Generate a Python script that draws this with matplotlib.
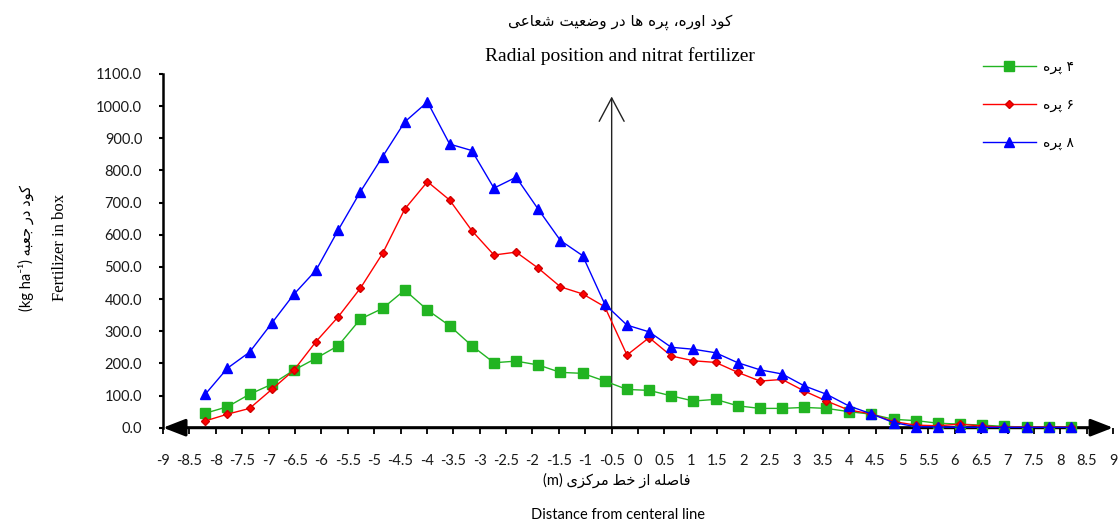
import numpy as np
import matplotlib
matplotlib.use('Agg')
import matplotlib.pyplot as plt

# box centres along the radial line (m)
dist = [-8.20, -7.78, -7.36, -6.94, -6.52, -6.10, -5.68, -5.26, -4.84, -4.42,
        -3.99, -3.57, -3.15, -2.73, -2.31, -1.89, -1.47, -1.05, -0.63, -0.21,
        0.21, 0.63, 1.05, 1.47, 1.89, 2.31, 2.73, 3.15, 3.57, 3.99,
        4.42, 4.84, 5.26, 5.68, 6.10, 6.52, 6.94, 7.36, 7.78, 8.20]

blade4 = [45, 65, 104, 135, 179, 216, 255, 338, 371, 428,
          366, 317, 255, 202, 207, 195, 172, 169, 145, 119,
          116, 99, 83, 88, 68, 60, 60, 63, 60, 50,
          42, 26, 22, 14, 11, 8, 4, 2, 2, 2]
blade6 = [21, 42, 60, 119, 179, 268, 345, 434, 542, 680,
          765, 708, 613, 537, 546, 496, 438, 416, 376, 226,
          280, 223, 208, 203, 172, 145, 150, 114, 83, 55,
          43, 19, 8, 6, 11, 5, 2, 2, 2, 2]
blade8 = [104, 185, 235, 325, 415, 490, 615, 734, 843, 951,
          1013, 882, 862, 745, 779, 679, 582, 535, 384, 319,
          298, 250, 244, 233, 202, 180, 167, 130, 104, 68,
          43, 16, 3, 2, 1, 1, 1, 1, 1, 1]

# --- tiny arabic/persian shaper (matplotlib has no shaping) ---
FORMS = {
    'ا': ('\uFE8D', '\uFE8E', None, None),
    'ب': ('\uFE8F', '\uFE90', '\uFE91', '\uFE92'),
    'پ': ('\uFB56', '\uFB57', '\uFB58', '\uFB59'),
    'ت': ('\uFE95', '\uFE96', '\uFE97', '\uFE98'),
    'ج': ('\uFE9D', '\uFE9E', '\uFE9F', '\uFEA0'),
    'خ': ('\uFEA5', '\uFEA6', '\uFEA7', '\uFEA8'),
    'د': ('\uFEA9', '\uFEAA', None, None),
    'ر': ('\uFEAD', '\uFEAE', None, None),
    'ز': ('\uFEAF', '\uFEB0', None, None),
    'ش': ('\uFEB5', '\uFEB6', '\uFEB7', '\uFEB8'),
    'ص': ('\uFEB9', '\uFEBA', '\uFEBB', '\uFEBC'),
    'ض': ('\uFEBD', '\uFEBE', '\uFEBF', '\uFEC0'),
    'ط': ('\uFEC1', '\uFEC2', '\uFEC3', '\uFEC4'),
    'ع': ('\uFEC9', '\uFECA', '\uFECB', '\uFECC'),
    'ف': ('\uFED1', '\uFED2', '\uFED3', '\uFED4'),
    'ک': ('\uFB8E', '\uFB8F', '\uFB90', '\uFB91'),
    'ل': ('\uFEDD', '\uFEDE', '\uFEDF', '\uFEE0'),
    'م': ('\uFEE1', '\uFEE2', '\uFEE3', '\uFEE4'),
    'ه': ('\uFEE9', '\uFEEA', '\uFEEB', '\uFEEC'),
    'و': ('\uFEED', '\uFEEE', None, None),
    'ی': ('\uFBFC', '\uFBFD', '\uFBFE', '\uFBFF'),
}


def shape(word):
    out = []
    for i, c in enumerate(word):
        f = FORMS.get(c)
        if f is None:
            out.append(c)
            continue
        prev = word[i - 1] if i > 0 else None
        nxt = word[i + 1] if i + 1 < len(word) else None
        jp = prev in FORMS and FORMS[prev][2] is not None
        jn = nxt in FORMS and f[2] is not None
        if jp and jn:
            out.append(f[3])
        elif jp:
            out.append(f[1])
        elif jn:
            out.append(f[2])
        else:
            out.append(f[0])
    return ''.join(reversed(out))


def rtl(text):
    return ' '.join(shape(w) for w in reversed(text.split()))


AR = ['DejaVu Sans']
SANS = ['Lato', 'DejaVu Sans']
SERIF = ['Liberation Serif', 'DejaVu Sans']

fig = plt.figure(figsize=(11.19, 5.24), dpi=100)
ax = fig.add_axes([0.1457, 0.1838, 0.849, 0.675])

ax.plot(dist, blade4, color='#22B422', marker='s', markersize=6.5, lw=1,
        label=rtl('۴ پره'), clip_on=False, zorder=4)
ax.plot(dist, blade6, color='#FF0000', marker='D', markersize=4.2, lw=1,
        markeredgecolor='#D00000', label=rtl('۶ پره'), clip_on=False, zorder=4)
ax.plot(dist, blade8, color='#0000FF', marker='^', markersize=7.5, lw=1,
        label=rtl('۸ پره'), clip_on=False, zorder=4)

ax.set_xlim(-9, 9)
ax.set_ylim(0, 1100)
ax.set_xticks(np.arange(-9, 9.01, 0.5))
ax.set_xticklabels(['%g' % t for t in np.arange(-9, 9.01, 0.5)])
ax.set_yticks(np.arange(0, 1101, 100))
ax.set_yticklabels(['%.1f' % t for t in np.arange(0, 1101, 100)])
for lab in ax.get_xticklabels() + ax.get_yticklabels():
    lab.set_family(SANS)
    lab.set_fontsize(10.5)
    lab.set_color('#1a1a1a')
ax.tick_params(axis='x', direction='out', length=4, width=1.3, pad=15)
ax.tick_params(axis='y', direction='out', length=3, width=1.5, pad=12)

for s in ['top', 'right', 'bottom']:
    ax.spines[s].set_visible(False)
ax.spines['left'].set_linewidth(1.8)

# x axis with arrows at both ends
ax.annotate('', xy=(9, 0), xytext=(-9, 0), xycoords='data',
            arrowprops=dict(arrowstyle='<|-|>,head_length=0.9,head_width=0.35',
                            lw=2.2, color='black', mutation_scale=15,
                            shrinkA=0, shrinkB=0), annotation_clip=False, zorder=3)
# centre line arrow
ax.annotate('', xy=(-0.5, 1030), xytext=(-0.5, 0),
            arrowprops=dict(arrowstyle='->,head_length=0.6,head_width=0.32',
                            lw=1, color='#222222', mutation_scale=28,
                            shrinkA=0, shrinkB=0), annotation_clip=False, zorder=2)

ax.legend(loc='upper left', bbox_to_anchor=(983 / 1119, 1 - 60 / 524),
          bbox_transform=fig.transFigure, frameon=False, borderpad=0,
          borderaxespad=0, handlelength=3.8, handletextpad=0.5,
          labelspacing=1.7, prop={'family': AR, 'size': 10})

fig.text(620 / 1119, 1 - 22 / 524, rtl('کود اوره، پره ها در وضعیت شعاعی'),
         ha='center', va='center', family=AR, fontsize=11, color='black')
fig.text(620 / 1119, 1 - 56 / 524, 'Radial position and nitrat fertilizer',
         ha='center', va='center', family=SERIF, fontsize=14)

fig.text(26 / 1119, 0.527, '(kg ha\u207b\u00b9) ' + rtl('کود در جعبه'),
         rotation=90, ha='center', va='center', family=SANS, fontsize=10.5)
fig.text(60 / 1119, 0.527, 'Fertilizer in box', rotation=90,
         ha='center', va='center', family=SERIF, fontsize=12)

fig.text(617 / 1119, 1 - 480 / 524, '(m) ' + rtl('فاصله از خط مرکزی'),
         ha='center', va='center', family=SANS, fontsize=10.5)
fig.text(618 / 1119, 1 - 515 / 524, 'Distance from centeral line',
         ha='center', va='center', family=SANS, fontsize=10.5)

fig.savefig('out.png', dpi=100)
